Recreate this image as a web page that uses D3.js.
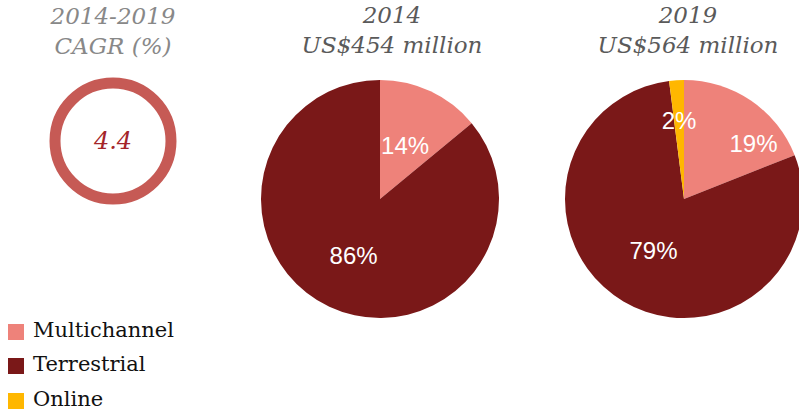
<!DOCTYPE html>
<html lang="en">
<head>
    <meta charset="UTF-8">
    <title>TV advertising split</title>
    <script src="https://cdnjs.cloudflare.com/ajax/libs/d3/7.8.0/d3.min.js"></script>
    <style>
        body { margin: 0; background: #fff; }
        svg { display: block; }
    </style>
</head>
<body>
    <svg id="viz" width="799" height="413"></svg>

    <script>
        // data
        const categories = ["Multichannel", "Terrestrial", "Online"];
        const years = ["2014", "2019"];
        const totals = [454, 564];           // US$ million
        const share2014 = [14, 86, 0];
        const share2019 = [19, 79, 2];
        const cagr = 4.4;

        const colors = ["#ee827a", "#7a1818", "#ffb700"];
        const serif = "'DejaVu Serif', serif";
        const sans = "'Liberation Sans', Arial, sans-serif";

        const svg = d3.select("#viz");
        const color = d3.scaleOrdinal().domain(categories).range(colors);

        // CAGR ring
        const ring = svg.append("g").attr("transform", "translate(113,141)");
        ring.append("circle")
            .attr("r", 58)
            .attr("fill", "none")
            .attr("stroke", "#c65a55")
            .attr("stroke-width", 11);
        ring.append("text")
            .attr("y", 8)
            .attr("text-anchor", "middle")
            .attr("font-family", serif)
            .attr("font-style", "italic")
            .attr("font-size", 24)
            .attr("fill", "#a4252a")
            .text(cagr.toFixed(1));

        const titleLines = [["2014-2019", "CAGR (%)"]];
        svg.append("text")
            .attr("text-anchor", "middle")
            .attr("font-family", serif)
            .attr("font-style", "italic")
            .attr("font-size", 23)
            .attr("fill", "#888")
            .selectAll("tspan")
            .data(titleLines[0])
            .join("tspan")
            .attr("x", 113)
            .attr("y", (d, i) => 24 + i * 30)
            .text(d => d);

        // pies
        const radius = 119;
        const pie = d3.pie().sort(null).value(d => d.v);
        const arc = d3.arc().innerRadius(0).outerRadius(radius);
        // label placement per category: [distance from centre, position along the slice]
        const labelPos = {
            "2014": [[59, 0.5], [62, 0.5], [62, 0.5]],
            "2019": [[89, 0.75], [60, 0.5], [79, 0.5]]
        };

        const pies = [
            {year: years[0], total: totals[0], shares: share2014, cx: 380, tx: 392},
            {year: years[1], total: totals[1], shares: share2019, cx: 684, tx: 688}
        ];

        pies.forEach(p => {
            const d = categories.map((c, i) => ({c: c, v: p.shares[i]}));
            const g = svg.append("g").attr("transform", "translate(" + p.cx + ",199)");
            const slices = pie(d).filter(s => s.data.v > 0);

            g.selectAll("path")
                .data(slices)
                .join("path")
                .attr("d", arc)
                .attr("fill", s => color(s.data.c));

            g.selectAll("text.lbl")
                .data(slices)
                .join("text")
                .attr("class", "lbl")
                .attr("transform", s => {
                    const [r, f] = labelPos[p.year][s.index];
                    const a = s.startAngle + (s.endAngle - s.startAngle) * f;
                    return "translate(" + (r * Math.sin(a)) + "," + (-r * Math.cos(a)) + ")";
                })
                .attr("dy", "0.35em")
                .attr("text-anchor", "middle")
                .attr("font-family", sans)
                .attr("font-size", 24)
                .attr("fill", "#fff")
                .text(s => s.data.v + "%");

            svg.append("text")
                .attr("text-anchor", "middle")
                .attr("font-family", serif)
                .attr("font-style", "italic")
                .attr("font-size", 23)
                .attr("fill", "#5a5a5a")
                .selectAll("tspan")
                .data([p.year, "US$" + p.total + " million"])
                .join("tspan")
                .attr("x", p.tx)
                .attr("y", (t, i) => 23 + i * 30)
                .text(t => t);
        });

        // legend
        const legend = svg.append("g")
            .selectAll("g")
            .data(categories)
            .join("g")
            .attr("transform", (c, i) => "translate(8," + [324, 358, 393][i] + ")");
        legend.append("rect")
            .attr("width", 16)
            .attr("height", 16)
            .attr("fill", c => color(c));
        legend.append("text")
            .attr("x", 25)
            .attr("y", 13)
            .attr("font-family", serif)
            .attr("font-size", 21)
            .attr("fill", "#111")
            .text(c => c);
    </script>
</body>
</html>
